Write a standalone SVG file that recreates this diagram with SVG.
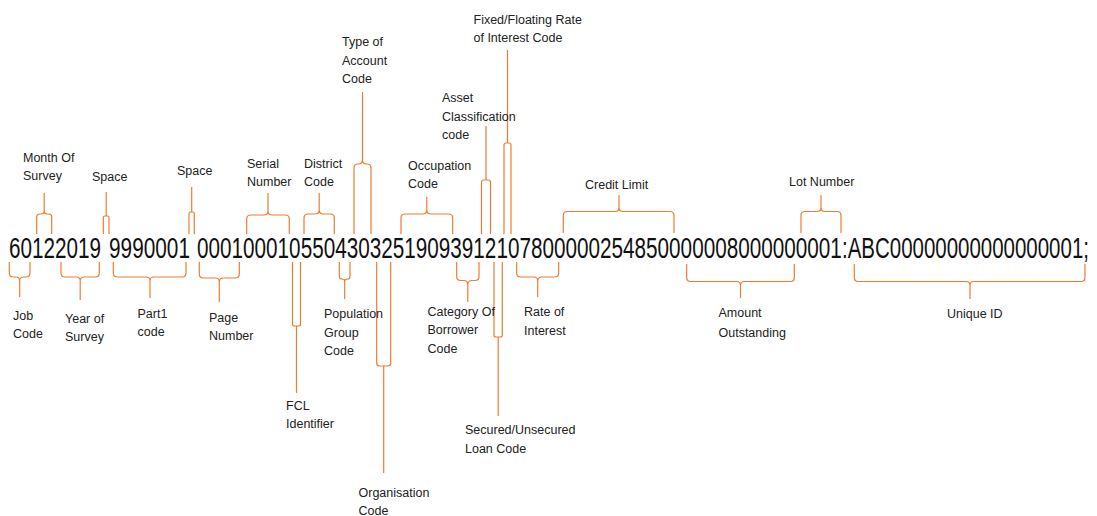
<svg xmlns="http://www.w3.org/2000/svg" width="1097" height="516" viewBox="0 0 1097 516">
<style>
.lbl{font-family:"Liberation Sans",Arial,sans-serif;font-size:12.5px;fill:#222}
.code{font-family:"Liberation Sans",Arial,sans-serif;font-size:30px;fill:#111}
.br{fill:none;stroke:#ED7D31;stroke-width:1.2;stroke-linejoin:round;stroke-linecap:butt}
</style>
<rect width="1097" height="516" fill="#fff"/>
<g id="code-string">
<text class="code" transform="matrix(0.6896,0,0,1,9,258)" x="0" y="0">60122019</text>
<text class="code" transform="matrix(0.6935,0,0,1,109,258)" x="0" y="0">9990001</text>
<text class="code" transform="matrix(0.6905,0,0,1,197,258)" x="0" y="0">00010001055043032519093912107800000254850000008000000001</text>
<text class="code" transform="matrix(0.6825,0,0,1,842,258)" x="0" y="0">:ABC00000000000000001;</text>
</g>
<g id="connectors">
<path class="br" d="M36.7,234V217Q36.7,214 39.7,214H41.2Q44.2,214 44.2,211V193M51.7,234V217Q51.7,214 48.7,214H47.2Q44.2,214 44.2,211"/>
<path class="br" d="M103.3,234V217.5Q103.3,216 104.8,216H107.5Q109,216 109,217.5V234M106.2,216V192"/>
<path class="br" d="M189,234V213.5Q189,212 190.5,212H192.8Q194.3,212 194.3,213.5V234M191.7,212V187"/>
<path class="br" d="M246.7,234V219Q246.7,215 250.7,215H264Q268,215 268,211V193M289.3,234V219Q289.3,215 285.3,215H272Q268,215 268,211"/>
<path class="br" d="M304,234V218Q304,214 308,214H315.2Q319.2,214 319.2,210V193M334.3,234V218Q334.3,214 330.3,214H323.2Q319.2,214 319.2,210"/>
<path class="br" d="M354,234V168Q354,164 358,164H358.5Q362.5,164 362.5,160V92M371,234V168Q371,164 367,164H366.5Q362.5,164 362.5,160"/>
<path class="br" d="M401,234V218Q401,214 405,214H422.8Q426.8,214 426.8,210V197M452.7,234V218Q452.7,214 448.7,214H430.8Q426.8,214 426.8,210"/>
<path class="br" d="M481.5,234V182Q481.5,180 483.5,180H488.5Q490.5,180 490.5,182V234M486,180V126"/>
<path class="br" d="M504,234V145Q504,143 506,143H509Q511,143 511,145V234M507.5,143V50"/>
<path class="br" d="M563.3,233V215.5Q563.3,211.5 567.3,211.5H615Q619,211.5 619,207.5V195M674,233V215.5Q674,211.5 670,211.5H623Q619,211.5 619,207.5"/>
<path class="br" d="M801,233V215.5Q801,211.5 805,211.5H817Q821,211.5 821,207.5V195M841,233V215.5Q841,211.5 837,211.5H825Q821,211.5 821,207.5"/>
<path class="br" d="M9.3,262V273Q9.3,277 13.3,277H15.7Q19.7,277 19.7,281V297M30,262V273Q30,277 26,277H23.7Q19.7,277 19.7,281"/>
<path class="br" d="M61,262V273Q61,277 65,277H76.2Q80.2,277 80.2,281V300M99.3,262V273Q99.3,277 95.3,277H84.2Q80.2,277 80.2,281"/>
<path class="br" d="M113.3,262V273Q113.3,277 117.3,277H146Q150,277 150,281V298M186,262V273Q186,277 182,277H154Q150,277 150,281"/>
<path class="br" d="M199.3,262V274Q199.3,278 203.3,278H215.3Q219.3,278 219.3,282V302M239.3,262V274Q239.3,278 235.3,278H223.3Q219.3,278 219.3,282"/>
<path class="br" d="M292.5,262V324Q292.5,326 294.5,326H298.5Q300.5,326 300.5,324V262M296.5,326V393"/>
<path class="br" d="M339.3,262V276.5Q339.3,279 341.8,279H342.2Q344.7,279 344.7,281.5V299M350,262V276.5Q350,279 347.5,279H347.2Q344.7,279 344.7,281.5"/>
<path class="br" d="M376.7,262V363Q376.7,366 379.7,366H387.7Q390.7,366 390.7,363V262M383.7,366V473"/>
<path class="br" d="M456.7,262V276.5Q456.7,280.5 460.7,280.5H463.8Q467.8,280.5 467.8,284.5V302M479,262V276.5Q479,280.5 475,280.5H471.8Q467.8,280.5 467.8,284.5"/>
<path class="br" d="M494,262V335Q494,337 496,337H500.3Q502.3,337 502.3,335V262M498.2,337V416"/>
<path class="br" d="M516.7,262V273Q516.7,277 520.7,277H533.7Q537.7,277 537.7,281V297M558.7,262V273Q558.7,277 554.7,277H541.7Q537.7,277 537.7,281"/>
<path class="br" d="M686.7,264V277.5Q686.7,281.5 690.7,281.5H736.5Q740.5,281.5 740.5,285.5V298M794.3,264V277.5Q794.3,281.5 790.3,281.5H744.5Q740.5,281.5 740.5,285.5"/>
<path class="br" d="M854.3,264V277.5Q854.3,281.5 858.3,281.5H966Q970,281.5 970,285.5V299M1085,264V277.5Q1085,281.5 1081,281.5H974Q970,281.5 970,285.5"/>
</g>
<g id="month-of-survey"><text class="lbl" x="23" y="162">Month Of</text><text class="lbl" x="23" y="180">Survey</text></g>
<g id="space-1"><text class="lbl" x="92" y="181">Space</text></g>
<g id="space-2"><text class="lbl" x="177" y="175">Space</text></g>
<g id="serial-number"><text class="lbl" x="247" y="168">Serial</text><text class="lbl" x="247" y="186">Number</text></g>
<g id="district-code"><text class="lbl" x="304" y="168">District</text><text class="lbl" x="304" y="186">Code</text></g>
<g id="type-of-account-code"><text class="lbl" x="342" y="46">Type of</text><text class="lbl" x="342" y="64.5">Account</text><text class="lbl" x="342" y="83">Code</text></g>
<g id="occupation-code"><text class="lbl" x="408" y="170">Occupation</text><text class="lbl" x="408" y="188">Code</text></g>
<g id="asset-classification-code"><text class="lbl" x="442" y="102">Asset</text><text class="lbl" x="442" y="120.5">Classification</text><text class="lbl" x="442" y="138.5">code</text></g>
<g id="fixed-floating-rate"><text class="lbl" x="473.5" y="24">Fixed/Floating Rate</text><text class="lbl" x="473.5" y="42">of Interest Code</text></g>
<g id="credit-limit"><text class="lbl" x="585" y="189">Credit Limit</text></g>
<g id="lot-number"><text class="lbl" x="789" y="186">Lot Number</text></g>
<g id="job-code"><text class="lbl" x="13" y="320">Job</text><text class="lbl" x="13" y="338">Code</text></g>
<g id="year-of-survey"><text class="lbl" x="65" y="323">Year of</text><text class="lbl" x="65" y="341">Survey</text></g>
<g id="part1-code"><text class="lbl" x="137.5" y="318">Part1</text><text class="lbl" x="137.5" y="336">code</text></g>
<g id="page-number"><text class="lbl" x="209" y="322">Page</text><text class="lbl" x="209" y="340">Number</text></g>
<g id="fcl-identifier"><text class="lbl" x="286" y="410">FCL</text><text class="lbl" x="286" y="428">Identifier</text></g>
<g id="population-group-code"><text class="lbl" x="324" y="318">Population</text><text class="lbl" x="324" y="336.5">Group</text><text class="lbl" x="324" y="355">Code</text></g>
<g id="organisation-code"><text class="lbl" x="358.5" y="497">Organisation</text><text class="lbl" x="358.5" y="515">Code</text></g>
<g id="category-of-borrower-code"><text class="lbl" x="427.5" y="316">Category Of</text><text class="lbl" x="427.5" y="334">Borrower</text><text class="lbl" x="427.5" y="352.5">Code</text></g>
<g id="secured-unsecured-loan-code"><text class="lbl" x="465" y="434">Secured/Unsecured</text><text class="lbl" x="465" y="452.5">Loan Code</text></g>
<g id="rate-of-interest"><text class="lbl" x="524" y="316">Rate of</text><text class="lbl" x="524" y="334.5">Interest</text></g>
<g id="amount-outstanding"><text class="lbl" x="718.5" y="317">Amount</text><text class="lbl" x="718.5" y="336.5">Outstanding</text></g>
<g id="unique-id"><text class="lbl" x="947" y="318">Unique ID</text></g>
</svg>
